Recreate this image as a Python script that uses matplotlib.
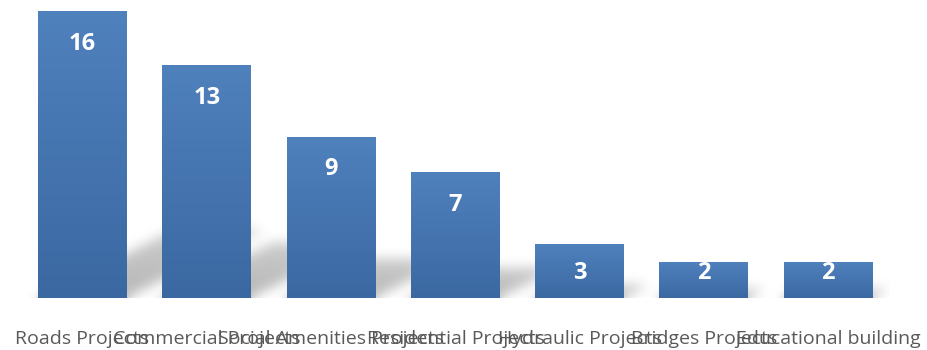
import numpy as np
import matplotlib
matplotlib.use("Agg")
import matplotlib.pyplot as plt
from matplotlib.colors import LinearSegmentedColormap

categories = ["Roads Projects", "Commercial Projects", "Social Amenities Projects",
              "Residential Projects", "Hydraulic Projects", "Bridges Projects",
              "Educational building"]
values = [16, 13, 9, 7, 3, 2, 2]

W, H = 927, 350
fig = plt.figure(figsize=(W / 100, H / 100), dpi=100)
ax_left, ax_right = 20.4 / W, 890.4 / W
ax_bot, ax_top = (H - 298) / H, (H - 11) / H
ax = fig.add_axes([ax_left, ax_bot, ax_right - ax_left, ax_top - ax_bot])

x = np.arange(len(values))
bw = 0.716
ax.set_xlim(-0.5, len(values) - 0.5)
ax.set_ylim(0, 16)

px_x = (ax_right - ax_left) * W / len(values)   # pixels per x unit
px_y = (ax_top - ax_bot) * H / 16               # pixels per y unit

# ---- soft perspective shadow ----
k = 0.24
skew = 2.0 * px_y / px_x
sx0, sx1, sy0, sy1 = -0.5, len(values) - 0.5 + 0.3, 0.0, 5.0
nx = int((sx1 - sx0) * px_x)
ny = int((sy1 - sy0) * px_y)
gx = np.linspace(sx0, sx1, nx)
gy = np.linspace(sy0, sy1, ny)
XX, YY = np.meshgrid(gx, gy)
inten = np.zeros_like(XX)
for xi, v in zip(x, values):
    hs = k * v
    inside = (YY <= hs) & (np.abs(XX - skew * YY - xi) <= bw / 2)
    val = 1.0 - 0.3 * (YY / hs)
    inten = np.maximum(inten, np.where(inside, val, 0.0))

def gblur(a, sigma, axis):
    r = int(3 * sigma)
    t = np.arange(-r, r + 1)
    kern = np.exp(-t ** 2 / (2 * sigma ** 2))
    kern /= kern.sum()
    pad = [(0, 0), (0, 0)]
    pad[axis] = (r, r)
    ap = np.pad(a, pad, mode="edge")
    return np.apply_along_axis(lambda m: np.convolve(m, kern, mode="valid"), axis, ap)

inten = gblur(inten, 6, 1)
inten = gblur(inten, 6, 0)
rgba = np.zeros((ny, nx, 4))
rgba[..., 3] = 0.29 * inten
ax.imshow(rgba, extent=[sx0, sx1, sy0, sy1], origin="lower", aspect="auto",
          zorder=1, interpolation="bilinear")

# ---- bars with vertical gradient ----
cmap = LinearSegmentedColormap.from_list("g", ["#3b68a1", "#4f81bd"])
bars = ax.bar(x, values, width=bw, color="#4576b2", zorder=2, linewidth=0)
grad = np.linspace(0, 1, 256).reshape(-1, 1)
for b in bars:
    bx, by = b.get_x(), b.get_y()
    im = ax.imshow(grad, extent=[bx, bx + b.get_width(), by, by + b.get_height()],
                   origin="lower", aspect="auto", cmap=cmap, zorder=3)
    im.set_clip_path(b)

# ---- value labels ----
for xi, v in zip(x, values):
    base = max(v - (21 + 17.7) / px_y, 19 / px_y)
    ax.text(xi, base, str(v), ha="center", va="baseline", color="white",
            fontsize=17, fontweight="bold", family="Open Sans", zorder=4)

ax.set_xticks(x)
ax.set_xticklabels(categories, fontsize=14, family="Open Sans", color="#595959")
ax.tick_params(axis="x", length=0, pad=23)
ax.set_yticks([])
for s in ax.spines.values():
    s.set_visible(False)
ax.set_xlim(-0.5, len(values) - 0.5)
ax.set_ylim(0, 16)

fig.savefig("out.png", dpi=100)
